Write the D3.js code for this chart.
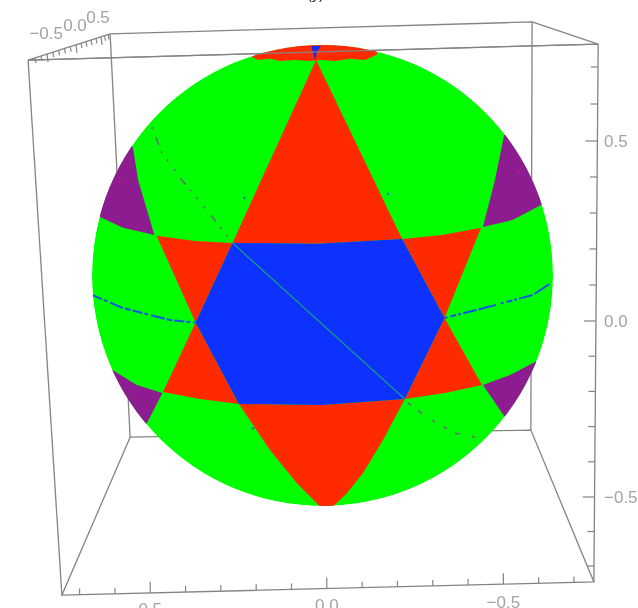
<!DOCTYPE html>
<html>
<head>
<meta charset="utf-8">
<script src="https://cdn.jsdelivr.net/npm/d3@7"></script>
<style>
    html, body { margin: 0; padding: 0; background: #fff; overflow: hidden; }
    text { font-family: "Liberation Sans", sans-serif; fill: #a3a3a3; }
</style>
</head>
<body>
<div id="canvas"></div>
<script>
"use strict";

/* -------------------- Configuration Variables -------------------- */

let svgWidth = 638;
let svgHeight = 608;

/* -------------------- Data (sphere face coordinates, radius 0.75) -------------------- */

let sphereRadius = 0.75;

let redTop = [[-0.021, 0.701], [0.259, 0.119], [-0.015, 0.103], [-0.293, 0.106]];
let redBottom = [[-0.272, -0.418], [-0.002, -0.421], [0.268, -0.402], [0.197, -0.535], [0.132, -0.643], [0.080, -0.708], [0.034, -0.752], [-0.008, -0.752], [-0.084, -0.675], [-0.171, -0.568]];
let redUpperLeft = [[-0.540, 0.129], [-0.415, 0.112], [-0.293, 0.106], [-0.413, -0.153]];
let redLowerLeft = [[-0.413, -0.153], [-0.272, -0.418], [-0.399, -0.402], [-0.519, -0.379]];
let redUpperRight = [[0.259, 0.119], [0.389, 0.132], [0.516, 0.155], [0.397, -0.138]];
let redLowerRight = [[0.397, -0.138], [0.519, -0.356], [0.399, -0.382], [0.268, -0.402]];
let redCap = [[-0.229, 0.711], [-0.210, 0.701], [-0.171, 0.705], [-0.138, 0.698], [-0.089, 0.701], [-0.041, 0.698], [-0.002, 0.701], [0.041, 0.698], [0.089, 0.705], [0.138, 0.701], [0.161, 0.711], [0.177, 0.718], [0.177, 0.799], [-0.229, 0.799]];

let blueHexagon = [[-0.293, 0.106], [-0.015, 0.103], [0.259, 0.119], [0.397, -0.138], [0.268, -0.402], [-0.002, -0.421], [-0.272, -0.418], [-0.413, -0.153]];
let blueCap = [[-0.037, 0.747], [-0.005, 0.747], [-0.018, 0.728], [-0.024, 0.701]];

let purpleUpperLeft = [[-0.617, 0.418], [-0.600, 0.311], [-0.547, 0.132], [-0.649, 0.155], [-0.724, 0.190], [-0.822, 0.278], [-0.724, 0.506]];
let purpleLowerLeft = [[-0.685, -0.307], [-0.604, -0.356], [-0.521, -0.382], [-0.571, -0.480], [-0.692, -0.535], [-0.789, -0.372]];
let purpleUpperRight = [[0.591, 0.457], [0.561, 0.311], [0.522, 0.158], [0.620, 0.181], [0.711, 0.229], [0.838, 0.311], [0.708, 0.539]];
let purpleLowerRight = [[0.698, -0.278], [0.610, -0.324], [0.522, -0.356], [0.591, -0.457], [0.675, -0.535], [0.805, -0.340]];

let equatorLeft = [[-0.748, -0.064], [-0.649, -0.106], [-0.496, -0.145], [-0.413, -0.153]];
let equatorRight = [[0.397, -0.138], [0.525, -0.106], [0.685, -0.063], [0.750, -0.020]];
let seamInside = [[-0.293, 0.106], [0.268, -0.402]];
let seamUpper = [[-0.555, 0.483], [-0.522, 0.398], [-0.457, 0.310], [-0.382, 0.219], [-0.311, 0.131], [-0.293, 0.106]];
let seamLower = [[0.278, -0.415], [0.317, -0.444], [0.366, -0.477], [0.431, -0.513], [0.496, -0.526]];
let strayBlue = [[-0.254, 0.252], [0.213, 0.265], [-0.226, -0.497]];
let strayPurple = [[-0.659, 0.304], [0.636, 0.337]];

let boxTop = [[-0.958, 0.701], [-0.691, 0.786], [0.682, 0.825], [0.897, 0.753], [-0.958, 0.701]];
let boxBottom = [[-0.626, -0.526], [0.678, -0.503], [0.883, -0.997], [-0.848, -1.040], [-0.626, -0.526]];
let boxEdges = [
    [[-0.958, 0.701], [-0.848, -1.040]],
    [[0.897, 0.753], [0.883, -0.997]],
    [[-0.691, 0.786], [-0.626, -0.526]],
    [[0.682, 0.825], [0.678, -0.503]]
];

let xTicks = [0.7, 0.6, 0.5, 0.4, 0.3, 0.2, 0.1, 0.0, -0.1, -0.2, -0.3, -0.4, -0.5, -0.6, -0.7];
let zTicks = [0.7, 0.6, 0.5, 0.4, 0.3, 0.2, 0.1, 0.0, -0.1, -0.2, -0.3, -0.4, -0.5, -0.6, -0.7];
let yTicks = [-0.7, -0.6, -0.5, -0.4, -0.3, -0.2, -0.1, 0.0, 0.1, 0.2, 0.3, 0.4, 0.5, 0.6, 0.7];
let tickLabels = ["\u22120.5", "0.0", "0.5"];
let titleText = "(y)";

/* -------------------- Scales -------------------- */

let faceX = d3.scaleLinear().domain([-sphereRadius, sphereRadius]).range([92, 553]);
let faceY = d3.scaleLinear().domain([-sphereRadius, sphereRadius]).range([506, 45]);

/* bottom edge, runs right to left in x */
let bottomX = d3.scaleLinear().domain([0.7, -0.7]).range([79.6, 574]);
let bottomY = d3.scaleLinear().domain([62, 594]).range([595, 582]);

/* right edge, perspective makes the steps uneven */
let rightY = d3.scaleLinear().domain([-0.7, -0.5, 0, 0.5, 0.7]).range([566, 497, 321, 141, 67]);
let rightX = d3.scaleLinear().domain([-0.75, 0.75]).range([594, 598]);

/* top left depth edge */
let depthX = d3.scaleLinear().domain([-0.7, -0.5, 0, 0.5, 0.7]).range([35, 47, 76, 101, 108]);
let depthY = d3.scaleLinear().domain([28, 110]).range([60, 34]);

let path = d3.line()
    .x(function (d) { return faceX(d[0]); })
    .y(function (d) { return faceY(d[1]); });

let isMajor = function (t) { return Math.abs(Math.abs(t * 2) % 1) < 1e-6; };

/* -------------------- Drawing area -------------------- */

let svg = d3.select("#canvas")
    .append("svg")
    .attr("width", svgWidth)
    .attr("height", svgHeight)
    .style("display", "block");

let defs = svg.append("defs");

/* the reference is a soft upscaled raster */
defs.append("filter")
    .attr("id", "soft")
    .attr("filterUnits", "userSpaceOnUse")
    .attr("x", 0).attr("y", 0).attr("width", svgWidth).attr("height", svgHeight)
    .append("feGaussianBlur")
    .attr("stdDeviation", 0.7);

defs.append("clipPath")
    .attr("id", "ball")
    .append("circle")
    .attr("cx", faceX(0))
    .attr("cy", faceY(0))
    .attr("r", faceX(sphereRadius) - faceX(0));

let root = svg.append("g").attr("filter", "url(#soft)");

/* -------------------- Back of the box -------------------- */

let boxLine = function (points) {
    root.append("path")
        .attr("d", path(points))
        .attr("fill", "none")
        .attr("stroke", "#848484")
        .attr("stroke-width", 1.3);
};

boxLine(boxTop);
boxLine(boxBottom);
boxEdges.forEach(boxLine);

/* -------------------- Sphere -------------------- */

let ball = root.append("g").attr("clip-path", "url(#ball)");

ball.append("circle")
    .attr("cx", faceX(0))
    .attr("cy", faceY(0))
    .attr("r", faceX(sphereRadius) - faceX(0))
    .attr("fill", "#00ff00");

let patch = function (points, color) {
    ball.append("path")
        .attr("d", path(points) + "Z")
        .attr("fill", color);
};

[redTop, redBottom, redUpperLeft, redLowerLeft, redUpperRight, redLowerRight, redCap].forEach(function (p) {
    patch(p, "#ff2a00");
});
[purpleUpperLeft, purpleLowerLeft, purpleUpperRight, purpleLowerRight].forEach(function (p) {
    patch(p, "#8c1f8f");
});
patch(blueHexagon, "#0a33ff");
patch(blueCap, "#0a33ff");

/* dashed seams on the surface */
let seam = function (points, color, width, dash) {
    ball.append("path")
        .attr("d", path(points))
        .attr("fill", "none")
        .attr("stroke", color)
        .attr("stroke-width", width)
        .attr("stroke-dasharray", dash);
};

seam(equatorLeft, "#0f55e0", 2, "10,2,4,3,14,2,6,2");
seam(equatorRight, "#0f55e0", 2, "3,3,6,2,3,2,14,2,18,5");
seam(seamInside, "#12b070", 1.1, "none");
seam(seamUpper, "#587a62", 1.7, "2,9,8,7,2,8,2,10");
seam(seamLower, "#587a62", 1.7, "4,9,5,12,3,10");

ball.selectAll("circle.blue")
    .data(strayBlue)
    .join("circle")
    .attr("class", "blue")
    .attr("cx", function (d) { return faceX(d[0]); })
    .attr("cy", function (d) { return faceY(d[1]); })
    .attr("r", 1.3)
    .attr("fill", "#1f77a8");

ball.selectAll("circle.purple")
    .data(strayPurple)
    .join("circle")
    .attr("class", "purple")
    .attr("cx", function (d) { return faceX(d[0]); })
    .attr("cy", function (d) { return faceY(d[1]); })
    .attr("r", 1.3)
    .attr("fill", "#c01f6a");

/* front top edge passes over the sphere */
boxLine([boxTop[0], boxTop[3]]);

/* -------------------- Ticks -------------------- */

let tick = function (x1, y1, x2, y2) {
    root.append("line")
        .attr("x1", x1).attr("y1", y1)
        .attr("x2", x2).attr("y2", y2)
        .attr("stroke", "#848484")
        .attr("stroke-width", 1.2);
};

xTicks.forEach(function (t) {
    let x = bottomX(t);
    let y = bottomY(x);
    tick(x, y, x, y - (isMajor(t) ? 11 : 6));
});

zTicks.forEach(function (t) {
    let y = rightY(t);
    let x = rightX(t);
    tick(x, y, x - (isMajor(t) ? 12 : 7), y);
});

yTicks.forEach(function (t) {
    let x = depthX(t);
    let y = depthY(x);
    tick(x, y, x + 1, y + (isMajor(t) ? 8 : 5));
});

/* -------------------- Tick labels -------------------- */

let label = function (x, y, anchor, content) {
    root.append("text")
        .attr("x", x)
        .attr("y", y)
        .attr("text-anchor", anchor)
        .attr("font-size", 17)
        .text(content);
};

/* bottom labels are cut by the window edge */
label(bottomX(0.5), 615, "middle", tickLabels[2]);
label(bottomX(0), 611, "middle", tickLabels[1]);
label(bottomX(-0.5), 608, "middle", tickLabels[0]);

label(604, rightY(0.5) + 6, "start", tickLabels[2]);
label(604, rightY(0) + 6, "start", tickLabels[1]);
label(604, rightY(-0.5) + 6, "start", tickLabels[0]);

label(63, 39, "end", tickLabels[0]);
label(75, 31, "middle", tickLabels[1]);
label(98, 23, "middle", tickLabels[2]);

/* title sits above the window, only its descenders show */
root.append("text")
    .attr("x", 315.5)
    .attr("y", -1)
    .attr("text-anchor", "middle")
    .attr("font-size", 14)
    .style("fill", "#222")
    .text(titleText);
</script>
</body>
</html>
